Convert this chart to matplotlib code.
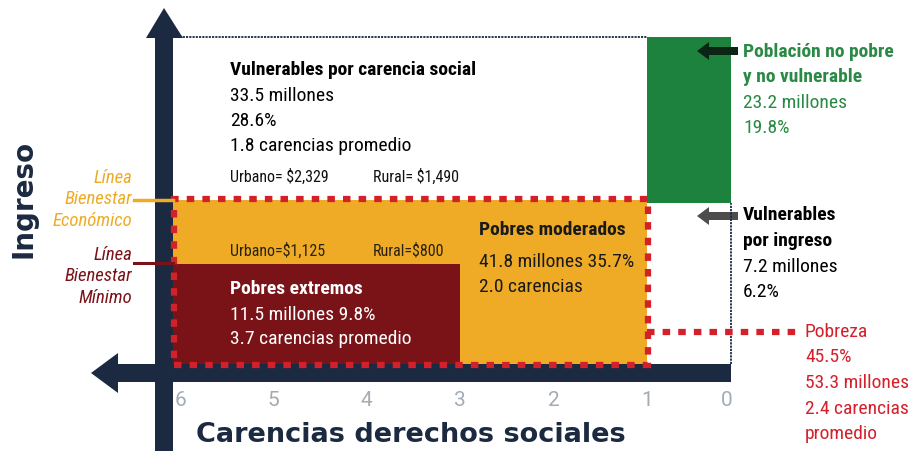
import matplotlib.pyplot as plt
from matplotlib import font_manager
from matplotlib.patches import Rectangle, Polygon, FancyArrow

# grupos de la medicion multidimensional de pobreza
grupos = ['Pobres extremos', 'Pobres moderados', 'Vulnerables por carencia social',
          'Vulnerables por ingreso', 'Población no pobre y no vulnerable']
millones = [11.5, 41.8, 33.5, 7.2, 23.2]
porcentaje = [9.8, 35.7, 28.6, 6.2, 19.8]
carencias_prom = [3.7, 2.0, 1.8, None, None]
pobreza = {'porcentaje': 45.5, 'millones': 53.3, 'carencias': 2.4}

# eje x: carencias (invertido), eje y: ingreso relativo
carencias_ticks = [6, 5, 4, 3, 2, 1, 0.15]
carencias_labels = ['6', '5', '4', '3', '2', '1', '0']
carencias_max = 6.075
umbral_extremo = 3
umbral_carencia = 1
carencias_min = 0.1
linea_minimo = 0.305
linea_economico = 0.503
ingreso_max = 1.0
lineas_urbano = ['$1,125', '$2,329']
lineas_rural = ['$800', '$1,490']

NAVY = '#1b2a40'
ORANGE = '#efab25'
DARKRED = '#7a1318'
RED = '#d3202b'
GREEN = '#1e823f'
GREEN_TXT = '#2a8a45'

installed = {f.name for f in font_manager.fontManager.ttflist}
if 'Roboto Condensed' in installed:
    FONT = ['Roboto Condensed', 'DejaVu Sans']
    FS, FS_SMALL, FS_IT = 14, 11.5, 13.5
else:
    FONT = ['Roboto', 'DejaVu Sans']
    FS, FS_SMALL, FS_IT = 12.3, 10, 12.3

fig = plt.figure(figsize=(9.08, 4.52), dpi=100)
bg = fig.add_axes([0, 0, 1, 1], zorder=0)
bg.set_xlim(0, 908)
bg.set_ylim(452, 0)
bg.axis('off')

ax = fig.add_axes([0, 0, 1, 1], zorder=1)
ax.set_facecolor('none')
ax.set_xlim(6 + 180 / 93.4, 6 - 728 / 93.4)
ax.set_ylim(-87 / 327, 365 / 327)
for s in ax.spines.values():
    s.set_visible(False)
ax.set_yticks([])
ax.spines['bottom'].set_position(('data', -0.075))
ax.set_xticks(carencias_ticks, carencias_labels)
ax.tick_params(axis='x', length=0, pad=1, labelsize=15, labelcolor='#a3abb4')
for t in ax.get_xticklabels():
    t.set_fontfamily(['Roboto', 'DejaVu Sans'])

# flechas de los ejes
bg.add_patch(Rectangle((155, 38), 18, 420, color=NAVY, lw=0))
bg.add_patch(Polygon([(146, 39), (164, 9), (183, 39)], color=NAVY, lw=0))
bg.add_patch(Rectangle((117, 365), 614, 18, color=NAVY, lw=0))
bg.add_patch(Polygon([(118, 354), (91, 374), (118, 394)], color=NAVY, lw=0))

# regiones
ax.add_patch(Rectangle((carencias_max, 0), umbral_carencia - carencias_max, linea_economico,
                       color=ORANGE, lw=0))
ax.add_patch(Rectangle((carencias_max, 0), umbral_extremo - carencias_max, linea_minimo,
                       color=DARKRED, lw=0))
ax.add_patch(Rectangle((umbral_carencia, linea_economico - 0.01), carencias_min - umbral_carencia,
                       ingreso_max - linea_economico + 0.01, color=GREEN, lw=0))
ax.plot([carencias_max, umbral_carencia], [ingreso_max, ingreso_max], color=NAVY,
        lw=1.3, ls=(0, (1.2, 0.6)))
ax.plot([carencias_min, carencias_min], [0, linea_economico - 0.01], color=NAVY,
        lw=1.3, ls=(0, (1.2, 0.6)))

# pobreza (borde rojo)
dash = (0, (1.2, 1.3))
ax.add_patch(Rectangle((6.06, -0.003), umbral_carencia - 6.06 - 0.01, linea_economico + 0.005,
                       fill=False, ec=RED, lw=4.5, ls=dash))
ax.plot([umbral_carencia, -0.62], [0.098, 0.098], color=RED, lw=4.5, ls=dash)

# lineas de bienestar
ax.plot([6.49, carencias_max], [linea_economico, linea_economico], color=ORANGE, lw=2.5)
ax.plot([6.49, carencias_max], [linea_minimo + 0.003, linea_minimo + 0.003], color=DARKRED, lw=2.2)

def txt(x, y, s, **kw):
    kw.setdefault('fontsize', FS)
    kw.setdefault('va', 'center')
    ax.text(x, y, s, transform=bg.transData, family=FONT, **kw)

# vulnerables por carencia social
txt(230, 70, grupos[2], fontweight='bold', color='black')
txt(230, 96, f'{millones[2]} millones', color='black')
txt(230, 121, f'{porcentaje[2]}%', color='black')
txt(230, 146, f'{carencias_prom[2]} carencias promedio', color='black')
txt(230, 177, f'Urbano= {lineas_urbano[1]}', fontsize=FS_SMALL, color='#111111')
txt(373, 177, f'Rural= {lineas_rural[1]}', fontsize=FS_SMALL, color='#111111')
txt(230, 251, f'Urbano={lineas_urbano[0]}', fontsize=FS_SMALL, color='#2a2210')
txt(373, 251, f'Rural={lineas_rural[0]}', fontsize=FS_SMALL, color='#2a2210')

# pobres extremos
txt(230, 289, grupos[0], fontweight='bold', color='white')
txt(230, 315, f'{millones[0]} millones {porcentaje[0]}%', color='white')
txt(230, 339, f'{carencias_prom[0]} carencias promedio', color='white')

# pobres moderados
txt(479, 230, grupos[1], fontweight='bold', color='#1a1a1a')
txt(479, 262, f'{millones[1]} millones {porcentaje[1]}%', color='#1a1a1a')
txt(479, 287, f'{carencias_prom[1]:.1f} carencias', color='#1a1a1a')

# no pobre y no vulnerable
txt(743, 52, 'Población no pobre', fontweight='bold', color=GREEN_TXT)
txt(743, 77, 'y no vulnerable', fontweight='bold', color=GREEN_TXT)
txt(743, 103, f'{millones[4]} millones', color=GREEN_TXT)
txt(743, 128, f'{porcentaje[4]}%', color=GREEN_TXT)
ax.add_patch(FancyArrow(738, 52, -41, 0, width=8, head_width=18, head_length=12,
                        length_includes_head=True, color='#0c2414', lw=0,
                        transform=bg.transData))

# vulnerables por ingreso
txt(743, 215, 'Vulnerables', fontweight='bold', color='black')
txt(743, 241, 'por ingreso', fontweight='bold', color='black')
txt(743, 267, f'{millones[3]} millones', color='black')
txt(743, 292, f'{porcentaje[3]}%', color='black')
ax.add_patch(FancyArrow(738, 217, -41, 0, width=8, head_width=18, head_length=12,
                        length_includes_head=True, color='#4d4d4d', lw=0,
                        transform=bg.transData))

# pobreza
txt(805, 332, 'Pobreza', color=RED)
txt(805, 357, f"{pobreza['porcentaje']}%", color=RED)
txt(805, 383, f"{pobreza['millones']} millones", color=RED)
txt(805, 409, f"{pobreza['carencias']} carencias", color=RED)
txt(805, 434, 'promedio', color=RED)

# etiquetas de las lineas
for i, s in enumerate(['Línea', 'Bienestar', 'Económico']):
    txt(132, 178 + 21.5 * i, s, fontsize=FS_IT, style='italic', color=ORANGE, ha='right')
for i, s in enumerate(['Línea', 'Bienestar', 'Mínimo']):
    txt(132, 255 + 21.5 * i, s, fontsize=FS_IT, style='italic', color=DARKRED, ha='right')

# titulos de los ejes
bg.text(24, 199, 'Ingreso', rotation=90, ha='center', va='center', fontsize=20,
        fontweight='bold', color=NAVY, family='DejaVu Sans')
bg.text(411, 435, 'Carencias derechos sociales', ha='center', va='center', fontsize=19.5,
        fontweight='bold', color=NAVY, family='DejaVu Sans')

fig.savefig('out.png', dpi=100)
